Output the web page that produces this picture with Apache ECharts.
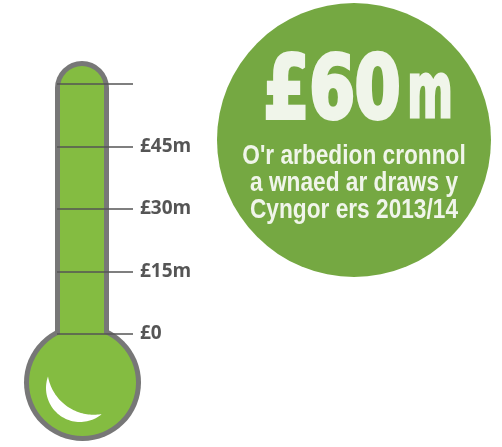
<!DOCTYPE html>
<html>
<head>
<meta charset="utf-8">
<script src="https://cdn.jsdelivr.net/npm/echarts@6/dist/echarts.min.js"></script>
<style>
html,body{margin:0;padding:0;background:#fff;}
#c{width:502px;height:447px;}
</style>
</head>
<body>
<div id="c"></div>
<script>
// ---- data ----
const tickValues = [0, 15, 30, 45, 60];
const tickLabels = ['£0', '£15m', '£30m', '£45m', ''];
const categories = ['Arbedion cronnol'];
const savingsValues = [60];
const headlineNumber = '£60';
const headlineUnit = 'm';
const captionLines = ['O\'r arbedion cronnol', 'a wnaed ar draws y', 'Cyngor ers 2013/14'];

// ---- styles ----
const TUBE_GREEN = '#84bc41';
const FRAME_GRAY = '#777777';
const LINE_GRAY = '#555555';
const BADGE_GREEN = '#75a842';
const BADGE_TEXT = '#f0f5ea';

// crescent highlight outline (decoration)
function arcPts(cx, cy, r, a0, a1, n) {
  const pts = [];
  for (let i = 0; i <= n; i++) {
    const a = (a0 + (a1 - a0) * i / n) * Math.PI / 180;
    pts.push([cx + r * Math.cos(a), cy + r * Math.sin(a)]);
  }
  return pts;
}
const crescent = arcPts(80, 388, 34, 199.7, 50, 48).concat(arcPts(93.7, 368.3, 46.4, 79.8, 169.8, 48));

const chart = echarts.init(document.getElementById('c'), null, {renderer: 'canvas'});

const option = {
  animation: false,
  backgroundColor: '#ffffff',
  grid: [
    {left: 57, top: 84, width: 76, height: 250},
    {left: 60, top: 84, width: 44, height: 250}
  ],
  xAxis: [
    {gridIndex: 0, type: 'value', min: 0, max: 1, show: false},
    {gridIndex: 1, type: 'category', data: categories, show: false}
  ],
  yAxis: [
    {
      gridIndex: 0, type: 'value', min: 0, max: 60, interval: 15, position: 'right', z: 3,
      axisLine: {show: false}, axisTick: {show: false},
      splitLine: {show: true, lineStyle: {color: LINE_GRAY, width: 1.5}},
      axisLabel: {
        margin: 7, color: LINE_GRAY, fontSize: 19, fontWeight: 'bold', fontFamily: 'Open Sans',
        formatter: function (v) { const i = tickValues.indexOf(v); return i >= 0 ? tickLabels[i] : ''; }
      }
    },
    {gridIndex: 1, type: 'value', min: 0, max: 60, show: false}
  ],
  series: [
    {
      type: 'bar', xAxisIndex: 1, yAxisIndex: 1, data: savingsValues,
      barWidth: '100%', z: 2, silent: true,
      itemStyle: {color: TUBE_GREEN}
    }
  ],
  graphic: [
    {type: 'rect', z: 0, shape: {x: 55, y: 61, width: 54, height: 285, r: [27, 27, 0, 0]}, style: {fill: FRAME_GRAY}},
    {type: 'circle', z: 0, shape: {cx: 82.5, cy: 382.5, r: 58.5}, style: {fill: FRAME_GRAY}},
    {type: 'rect', z: 1, shape: {x: 60, y: 66, width: 44, height: 60, r: [22, 22, 0, 0]}, style: {fill: TUBE_GREEN}},
    {type: 'circle', z: 1, shape: {cx: 82.5, cy: 382.5, r: 53.5}, style: {fill: TUBE_GREEN}},
    {type: 'polygon', z: 10, shape: {points: crescent}, style: {fill: '#ffffff'}},
    {type: 'circle', z: 10, shape: {cx: 354, cy: 140, r: 137}, style: {fill: BADGE_GREEN}},
    {type: 'text', z: 11, x: 332, y: 139, scaleX: 0.83,
      style: {text: headlineNumber, x: 0, y: 0, align: 'center', verticalAlign: 'bottom',
        font: 'bold 88px "DejaVu Sans Condensed"', fill: BADGE_TEXT, stroke: BADGE_TEXT, lineWidth: 4}},
    {type: 'text', z: 11, x: 430, y: 135, scaleX: 0.64,
      style: {text: headlineUnit, x: 0, y: 0, align: 'center', verticalAlign: 'bottom',
        font: 'bold 76px "DejaVu Sans Condensed"', fill: BADGE_TEXT, stroke: BADGE_TEXT, lineWidth: 3}},
    {type: 'text', z: 11, x: 354, y: 143, scaleX: 0.84,
      style: {text: captionLines.join('\n'), x: 0, y: 0, align: 'center', verticalAlign: 'top',
        font: 'bold 27px "Liberation Sans"', lineHeight: 27, fill: BADGE_TEXT}}
  ]
};
chart.setOption(option);
</script>
</body>
</html>
